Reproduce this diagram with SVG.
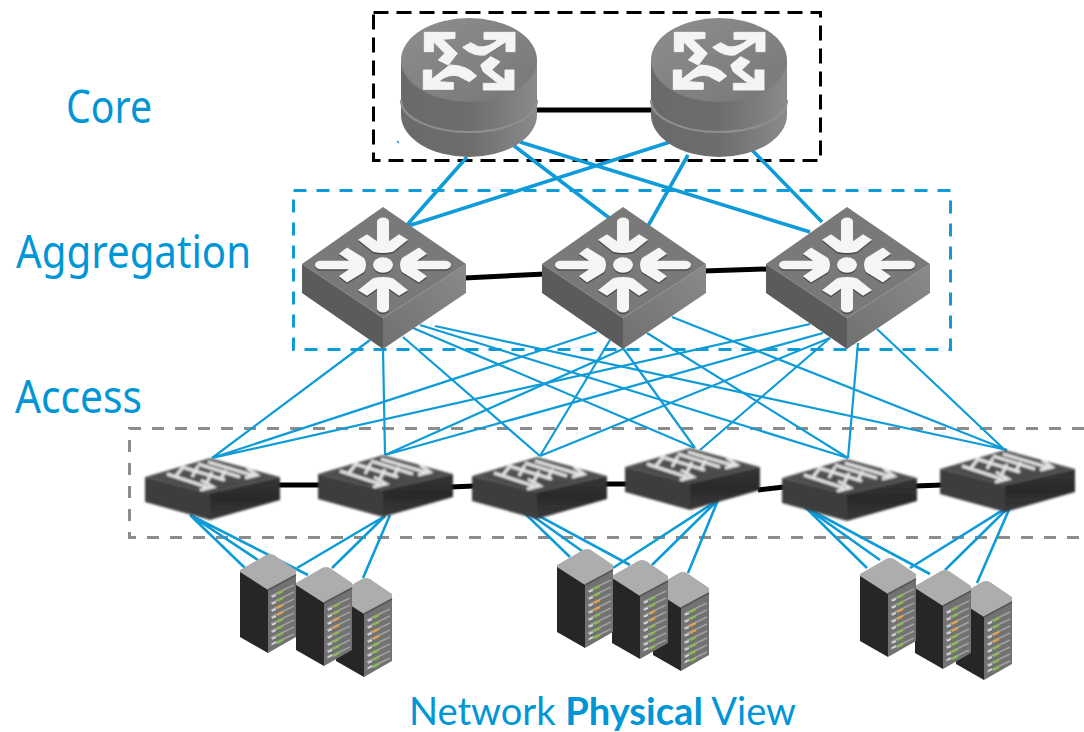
<svg xmlns="http://www.w3.org/2000/svg" xmlns:xlink="http://www.w3.org/1999/xlink" width="1084" height="732" viewBox="0 0 1084 732">
<style>
.lbl{font-family:"Noto Sans","Liberation Sans",sans-serif;fill:#0096d6;font-variant-ligatures:none}
.ttl{font-family:"Lato","Liberation Sans",sans-serif;fill:#0096d6;font-variant-ligatures:none}
.box{fill:none;stroke-width:3}
.thick{stroke:#0e9bd8;stroke-width:3.6;fill:none}
.thin{stroke:#0e9bd8;stroke-width:2.2;fill:none}
.srv{stroke:#0e9bd8;stroke-width:2.6;fill:none}
.blk{stroke:#000;stroke-width:5;fill:none}
.shelf{stroke:#a0a0a0;stroke-width:1.6}
.g{stroke:#8dbb4f;stroke-width:2.2}
.o{stroke:#e3a24a;stroke-width:2.2}
.w{stroke:#d8d8d8;stroke-width:1.8}
</style>
<defs>
<linearGradient id="body" x1="0" x2="1" y1="0" y2="0"><stop offset="0" stop-color="#6a6a6a"/><stop offset=".5" stop-color="#6d6d6d"/><stop offset="1" stop-color="#8a8a8a"/></linearGradient>
<linearGradient id="rtop" x1="0" x2="1" y1="0" y2="1"><stop offset="0" stop-color="#8e8e8e"/><stop offset="1" stop-color="#777"/></linearGradient>
<linearGradient id="aggr" x1="0" x2="1" y1="1" y2="0"><stop offset="0" stop-color="#707070"/><stop offset="1" stop-color="#8a8a8a"/></linearGradient>
<linearGradient id="swr" x1="0" x2="0" y1="0" y2="1"><stop offset="0" stop-color="#343434"/><stop offset=".5" stop-color="#2a2a2a"/><stop offset="1" stop-color="#3a3a3a"/></linearGradient>
<linearGradient id="swt" x1="0" x2="0" y1="0" y2="1"><stop offset="0" stop-color="#5c5c5c"/><stop offset="1" stop-color="#444"/></linearGradient>
<filter id="soft" x="-5%" y="-5%" width="110%" height="110%"><feGaussianBlur stdDeviation="1"/></filter>
<g id="router">
<ellipse cx="68" cy="97" rx="68" ry="42" fill="url(#body)"/>
<rect x="0" y="42" width="136" height="55" fill="url(#body)"/>
<path d="M0,82A68,32 0 0 0 136,82" fill="none" stroke="#8f8f8f" stroke-width="2.2"/>
<ellipse cx="68" cy="42" rx="68" ry="42" fill="url(#rtop)"/>
<g transform="translate(-31,-18) scale(.3333)" fill="#f4f4f4" stroke="#f4f4f4" stroke-width="3">
<path d="M163,97L255,97L255,115L218,118L262,160L235,195L205,180L225,160L190,125L190,155L163,155Z"/>
<path d="M435,97L342,97L342,118L385,118Q355,145 325,140L302,128L278,142Q310,170 345,165L408,125L408,155L435,155Z"/>
<path d="M160,268L250,268L250,248L205,245Q235,220 265,228L298,245L320,228Q290,195 240,195L185,238L185,210L160,210Z"/>
<path d="M432,270L340,270L340,250L385,250L340,215L332,195L362,170L390,185L365,210L405,240L405,210L432,210Z"/>
</g>
</g>
<path id="arr" d="M-6,-62A6,6 0 0 1 6,-62L6,-34L16,-44L25,-36L10,-19Q0,-15 -10,-19L-25,-36L-16,-44L-6,-34Z"/>
<g id="arrows">
<use xlink:href="#arr" href="#arr"/>
<use xlink:href="#arr" href="#arr" transform="rotate(90)"/>
<use xlink:href="#arr" href="#arr" transform="rotate(180)"/>
<use xlink:href="#arr" href="#arr" transform="rotate(270)"/>
<ellipse cx="0" cy="0" rx="10" ry="11"/>
</g>
<g id="agg">
<path d="M0,57L81,111L81,142L0,86Z" fill="#5b5b5b"/>
<path d="M164,57L81,111L81,142L164,86Z" fill="url(#aggr)"/>
<path d="M81,0L164,57L81,111L0,57Z" fill="#797979"/>
<use xlink:href="#arrows" href="#arrows" transform="translate(81,59.5) scale(1,.7)" fill="#4a4a4a"/>
<use xlink:href="#arrows" href="#arrows" transform="translate(81,58) scale(1,.7)" fill="#f5f5f5"/>
</g>
<g id="sw">
<g filter="url(#soft)">
<path d="M0,19L65,35L65,62L0,44Z" fill="#3d3d3d"/>
<path d="M135,19L65,35L65,62L135,42Z" fill="url(#swr)"/>
<path d="M65,0L135,19L65,35L0,19Z" fill="url(#swt)"/>
<g stroke="#e4e4e4" stroke-width="3" fill="none">
<path d="M22,16L62,29M56,22L68,29L55,32"/>
<path d="M37,9L80,22"/>
<path d="M53,6L95,19"/>
<path d="M63,4L110,18M102,10L112,17L100,20"/>
<path d="M38,9L31,18M53,8L47,19M67,14L62,24M81,12L75,22"/>
</g>
</g>
</g>
<g id="server">
<path d="M0,16L28,33L28,99L0,83Z" fill="#262626"/>
<path d="M28,33L56,18L56,83L28,99Z" fill="#727272"/>
<path d="M0,16L26,1Q30,-1 34,1L56,16L56,21L28,36L0,18Z" fill="#adadad"/>
<path d="M28,36L56,21" stroke="#555" stroke-width="1.5" fill="none"/>
<g class="shelf">
<path d="M31,42L54,31M31,49L54,38M31,56L54,45M31,63L54,52M31,70L54,59M31,77L54,66M31,84L54,73M31,91L54,80"/>
</g>
<g class="w"><path d="M32,43L36,41M32,50L36,48M32,57L36,55M32,64L36,62M32,71L36,69M32,78L36,76M32,85L36,83M32,90L36,88"/></g>
<g class="g"><path d="M37,40L43,37M37,47L43,44M37,68L43,65M37,75L43,72M37,82L43,79M37,89L43,86"/></g>
<g class="o"><path d="M37,54L43,51M37,61L43,58"/></g>
</g>
</defs>

<g id="core-box"><rect class="box" x="373.5" y="12.5" width="447" height="148" stroke="#000" stroke-dasharray="15 8"/></g>
<g id="agg-box"><rect class="box" x="293.5" y="190.5" width="657" height="159" stroke="#0e9bd8" stroke-dasharray="13 10"/></g>
<g id="access-box"><path class="box" d="M1084,428.5H129.5V537.5H1084" stroke="#8c8c8c" stroke-dasharray="12 11"/></g>

<g id="connectors">
<path class="blk" d="M535,110H655M464,278L545,274M703,271L768,269"/>
<path class="blk" d="M278,485H320M451,487L474,486M605,484L627,484M758,490L784,487M915,486L942,485"/>
<path class="thick" d="M467,157L407,225M513,145L612,220M520,142L810,232M670,142L408,226M688,155L648,226M752,150L822,222"/>
<path d="M397,141L399,143" stroke="#0e9bd8" stroke-width="1.5"/>
<g class="thin">
<path d="M370,340L212,458M597,332L212,458M810,324L212,458"/>
<path d="M383,349L385,455M623,349L385,455M823,333L385,455"/>
<path d="M403,337L540,456M610,340L540,456M830,338L540,456"/>
<path d="M413,328L695,448M623,348L695,448M830,338L700,450"/>
<path d="M420,325L848,458M647,333L848,458M858,343L848,458"/>
<path d="M435,326L1007,450M672,317L1007,450M877,329L1007,452"/>
</g>
<g class="srv">
<path d="M190,515L245,568M190,515L258,560M190,515L308,575"/>
<path d="M385,516L297,568M385,516L332,568M390,515L363,578"/>
<path d="M513,502L570,557M513,502L582,551M513,502L630,565"/>
<path d="M718,500L613,568M718,500L652,565M718,500L688,573"/>
<path d="M805,507L867,568M805,507L880,560M805,507L930,574"/>
<path d="M1011,505L910,568M1011,505L945,570M1011,505L977,583"/>
</g>
</g>

<g id="router-1"><use xlink:href="#router" href="#router" x="401" y="18"/></g>
<g id="router-2"><use xlink:href="#router" href="#router" x="651" y="18"/></g>
<g id="agg-1"><use xlink:href="#agg" href="#agg" x="302" y="207"/></g>
<g id="agg-2"><use xlink:href="#agg" href="#agg" x="542" y="207"/></g>
<g id="agg-3"><use xlink:href="#agg" href="#agg" x="766" y="207"/></g>
<g id="access-1"><use xlink:href="#sw" href="#sw" x="145" y="458"/></g>
<g id="access-2"><use xlink:href="#sw" href="#sw" x="318" y="455"/></g>
<g id="access-3"><use xlink:href="#sw" href="#sw" x="472" y="457"/></g>
<g id="access-4"><use xlink:href="#sw" href="#sw" x="625" y="448"/></g>
<g id="access-5"><use xlink:href="#sw" href="#sw" x="782" y="459"/></g>
<g id="access-6"><use xlink:href="#sw" href="#sw" x="940" y="450"/></g>
<g id="servers-1"><use xlink:href="#server" href="#server" x="336" y="578"/><use xlink:href="#server" href="#server" x="296" y="567"/><use xlink:href="#server" href="#server" x="240" y="554"/></g>
<g id="servers-2"><use xlink:href="#server" href="#server" x="653" y="572"/><use xlink:href="#server" href="#server" x="612" y="560"/><use xlink:href="#server" href="#server" x="557" y="549"/></g>
<g id="servers-3"><use xlink:href="#server" href="#server" x="956" y="581"/><use xlink:href="#server" href="#server" x="915" y="570"/><use xlink:href="#server" href="#server" x="860" y="558"/></g>

<g id="labels">
<text class="lbl" x="66" y="123" font-size="46" textLength="86" lengthAdjust="spacingAndGlyphs">Core</text>
<text class="lbl" x="16" y="268" font-size="46" textLength="235" lengthAdjust="spacingAndGlyphs">Aggregation</text>
<text class="lbl" x="15" y="413" font-size="46" textLength="127" lengthAdjust="spacingAndGlyphs">Access</text>
<text class="ttl" x="409" y="725" font-size="38" textLength="387" lengthAdjust="spacingAndGlyphs">Network <tspan font-weight="700">Physical</tspan> View</text>
</g>
</svg>
